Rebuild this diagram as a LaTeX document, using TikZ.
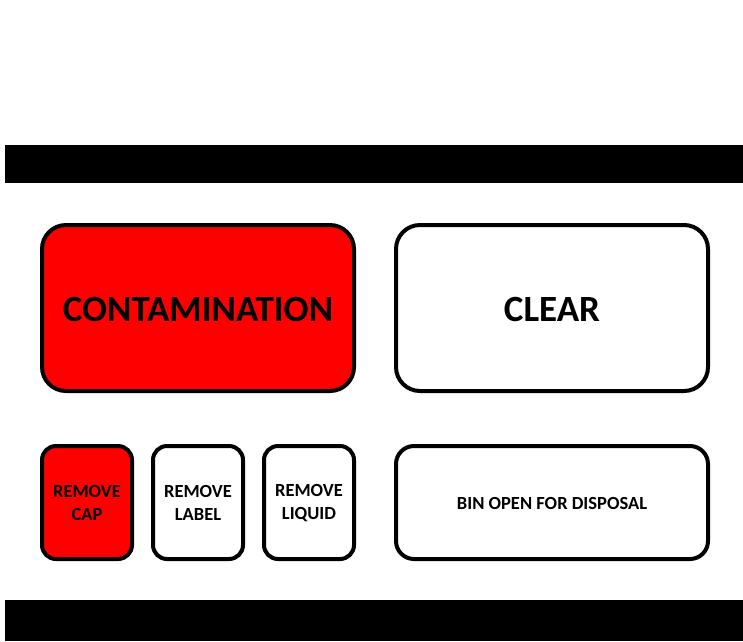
\documentclass[tikz,border=0pt]{standalone}
\usepackage{fontspec}
\setmainfont{Carlito}
\begin{document}
\begin{tikzpicture}[x=1pt,y=-1pt,
  bar/.style={fill=black,draw=none},
  panel/.style={draw=black,line width=4pt,rounded corners=#1},
  panel/.default=24pt,
  bigtxt/.style={font=\bfseries\fontsize{37}{44}\selectfont},
  smalltxt/.style={font=\bfseries\fontsize{18.5}{23}\selectfont,align=center}]
\useasboundingbox (0,0) rectangle (743,641);
\fill[white] (0,0) rectangle (743,641);
\path[bar] (5,145) rectangle (743,183);
\path[bar] (5,600) rectangle (743,641);
% big panels
\draw[panel,fill=red] (42,225) rectangle (354,391);
\node[bigtxt] (cont) at (198,309) {CONTAMINATION};
\draw[panel] (396,225) rectangle (708,391);
\node[bigtxt] (clear) at (552,309) {CLEAR};
% small panels
\draw[panel=14pt,fill=red] (42,446) rectangle (132,559);
\node[smalltxt] (cap) at (87,503) {REMOVE\\CAP};
\draw[panel=14pt] (153,446) rectangle (243,559);
\node[smalltxt] (label) at (198,503) {REMOVE\\LABEL};
\draw[panel=14pt] (264,446) rectangle (354,559);
\node[smalltxt] (liquid) at (309,503) {REMOVE\\LIQUID};
\draw[panel=18pt] (396,446) rectangle (708,559);
\node[smalltxt] (bin) at (552,503) {BIN OPEN FOR DISPOSAL};
\end{tikzpicture}
\end{document}
